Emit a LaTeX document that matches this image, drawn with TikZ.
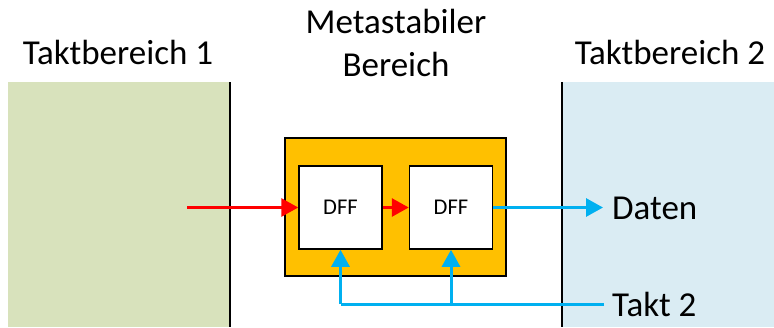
\documentclass[tikz,border=0pt]{standalone}
\usepackage{fontspec}
\setmainfont{Carlito}
\usetikzlibrary{arrows.meta}
\definecolor{greenarea}{HTML}{D8E2BC}
\definecolor{bluearea}{HTML}{DAECF3}
\definecolor{orangebox}{HTML}{FFC000}
\definecolor{cyanline}{HTML}{00B0F0}
\definecolor{redline}{HTML}{FF0000}
\begin{document}
\begin{tikzpicture}[x=1pt,y=-1pt,
  bigtext/.style={font=\fontsize{35}{41}\selectfont, inner sep=0pt},
  dffbox/.style={draw=black, line width=1.5pt, fill=white, minimum width=83pt, minimum height=83pt, inner sep=0pt, font=\fontsize{22.5}{26}\selectfont},
  metabox/.style={draw=black, line width=1.5pt, fill=orangebox, minimum width=221pt, minimum height=138pt, inner sep=0pt},
  redarrow/.style={draw=redline, line width=3pt, -{Triangle[length=17pt,width=18pt]}},
  cyanarrow/.style={draw=cyanline, line width=3pt, -{Triangle[length=17pt,width=18pt]}},
  border/.style={draw=black, line width=2pt}
]
\useasboundingbox (0,0) rectangle (774,327);
% areas
\fill[greenarea] (8,82) rectangle (230,327);
\fill[bluearea] (562,82) rectangle (774,327);
\draw[border] (230,82) -- (230,327);
\draw[border] (562,82) -- (562,327);
% titles
\node[bigtext, anchor=base] (t1) at (118,64) {Taktbereich 1};
\node[bigtext, anchor=base] (m1) at (396,33) {Metastabiler};
\node[bigtext, anchor=base] (m2) at (396,76) {Bereich};
\node[bigtext, anchor=base] (t3) at (670,64) {Taktbereich 2};
% boxes
\node[metabox] (meta) at (395.5,207) {};
\node[dffbox] (d1) at (340.5,207.5) {DFF};
\node[dffbox] (d2) at (451,207.5) {DFF};
% labels
\node[bigtext, anchor=west] (daten) at (612,208) {Daten};
\node[bigtext, anchor=west] (takt) at (612,304) {Takt 2};
% connectors
\coordinate (in) at (187,207.5);
\draw[redarrow] (in) -- (d1.west);
\draw[redarrow] (d1.east) -- (d2.west);
\draw[cyanarrow, shorten >=9pt] (d2.east) -- (d2.east -| daten.west);
\coordinate (c1) at (d1.south |- takt.west);
\coordinate (c2) at (d2.south |- takt.west);
\draw[draw=cyanline, line width=3pt, shorten <=8pt] (takt.west) -- (c1);
\draw[cyanarrow] (c1) -- (d1.south);
\draw[cyanarrow] (c2) -- (d2.south);
\end{tikzpicture}
\end{document}
